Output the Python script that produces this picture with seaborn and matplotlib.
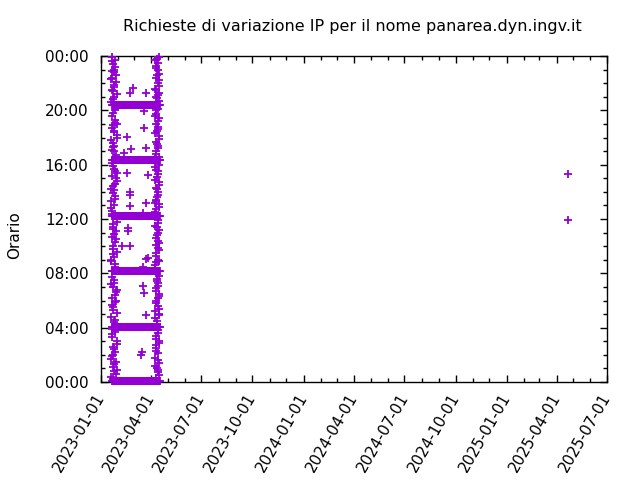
import pandas as pd
import numpy as np
import matplotlib
matplotlib.use("Agg")
import matplotlib.pyplot as plt
import matplotlib.dates as mdates
from matplotlib.ticker import FixedLocator, FuncFormatter
import seaborn as sns


# Data

title = "Richieste di variazione IP per il nome panarea.dyn.ingv.it"
y_label = "Orario"

# daily scheduled requests (rows)
row_start = "2023-01-21"
row_end = "2023-04-17"
row_missing_days = ["2023-03-19"]
row_times = ["00:05", "04:05", "08:10", "12:15", "16:20", "20:25"]

# January column (requests at all hours), day of January + hour
jan_col_day = [
    19, 25, 22, 28, 20, 26, 23, 29, 21, 27,
    24, 19, 30, 22, 26, 20, 28, 23, 25, 21,
    27, 19, 24, 29, 22, 26, 20, 28, 23, 30,
    21, 25, 19, 27, 24, 22, 29, 20, 26, 23,
    28, 21, 25, 19, 30, 24, 22, 27, 20, 26,
    23, 29, 21, 25, 19, 28, 24, 22, 27, 20,
    25, 21, 28, 23, 19, 26, 22, 29, 24, 20,
    22, 28, 19, 25, 30, 21, 27, 23, 20, 26,
    29, 24, 21, 27, 19, 23, 28, 25, 22, 30,
    20, 26, 23, 19, 28, 24, 21, 27, 25, 22,
    30, 20, 26, 23, 29, 19, 25, 22, 28, 21,
    24, 27, 20, 30, 23, 26, 19, 22, 29, 25,
]
jan_col_hour = [
    0.4, 0.8, 1.1, 1.5, 1.9, 2.2, 2.6, 3.0, 3.3, 3.7,
    4.4, 4.8, 5.1, 5.5, 5.9, 6.2, 6.6, 7.0, 7.3, 7.7,
    8.5, 8.9, 9.2, 9.6, 10.0, 10.3, 10.7, 11.1, 11.4, 11.8,
    12.6, 13.0, 13.3, 13.7, 14.1, 14.4, 14.8, 15.2, 15.5, 15.9,
    16.7, 17.1, 17.4, 17.8, 18.2, 18.5, 18.9, 19.3, 19.6, 20.0,
    20.8, 21.2, 21.5, 21.9, 22.3, 22.6, 23.0, 23.4, 23.7, 23.9,
    1.3, 3.5, 6.0, 9.4, 12.8, 14.6, 17.6, 19.0, 21.7, 22.9,
    0.2, 0.6, 1.7, 2.4, 2.8, 3.9, 4.6, 5.3, 5.7, 6.4,
    6.8, 7.5, 8.2, 8.7, 9.0, 9.8, 10.5, 10.9, 11.6, 12.2,
    12.4, 13.5, 13.9, 14.2, 15.0, 15.7, 16.1, 16.5, 17.0, 17.3,
    18.0, 18.7, 19.1, 19.8, 20.3, 20.6, 21.0, 21.4, 22.1, 22.4,
    22.8, 23.2, 23.6, 0.9, 2.0, 4.2, 7.2, 11.3, 15.4, 18.4,
]

# April column, day of April + hour
apr_col_day = [
    10, 14, 12, 16, 9, 13, 11, 15, 10, 14,
    12, 16, 9, 13, 11, 15, 10, 14, 12, 16,
    9, 13, 11, 15, 10, 14, 12, 16, 9, 13,
    11, 15, 10, 14, 12, 16, 9, 13, 11, 15,
    10, 14, 12, 16, 9, 13, 11, 15, 10, 14,
    12, 16, 9, 13, 11, 15, 10, 14, 12, 16,
    13, 11, 15, 10, 14, 12, 9, 13, 11, 15,
    15, 9, 13, 11, 16, 10, 14, 12, 9, 15,
    11, 13, 16, 10, 14, 12, 9, 15, 11, 13,
    16, 10, 12, 14, 9, 15, 11, 13, 10, 16,
    12, 14, 9, 15, 11, 13, 10, 16, 12, 14,
    9, 11, 15, 13, 10, 16, 12, 14, 11, 9,
]
apr_col_hour = [
    0.3, 0.7, 1.0, 1.4, 1.8, 2.1, 2.5, 2.9, 3.2, 3.6,
    4.5, 4.9, 5.2, 5.6, 6.0, 6.3, 6.7, 7.1, 7.4, 7.8,
    8.6, 9.0, 9.3, 9.7, 10.1, 10.4, 10.8, 11.2, 11.5, 11.9,
    12.7, 13.1, 13.4, 13.8, 14.2, 14.5, 14.9, 15.3, 15.6, 16.0,
    16.8, 17.2, 17.5, 17.9, 18.3, 18.6, 19.0, 19.4, 19.7, 20.1,
    20.9, 21.3, 21.6, 22.0, 22.4, 22.7, 23.1, 23.5, 23.8, 23.9,
    0.9, 2.7, 5.4, 8.8, 11.0, 13.6, 16.4, 18.8, 21.0, 22.2,
    0.5, 1.2, 1.6, 2.3, 3.0, 3.4, 3.8, 4.3, 4.7, 5.0,
    5.8, 6.2, 6.5, 6.9, 7.3, 7.6, 8.3, 8.9, 9.5, 9.9,
    10.2, 10.6, 11.4, 11.7, 12.5, 12.9, 13.3, 14.0, 14.3, 14.7,
    15.1, 15.5, 15.8, 16.6, 17.0, 17.4, 17.7, 18.1, 18.5, 19.2,
    19.6, 20.0, 20.7, 21.1, 21.5, 21.8, 22.6, 23.0, 23.3, 23.7,
]

# isolated requests
extra_dates = [
    "2023-02-27", "2023-02-22", "2023-03-24", "2023-03-19", "2023-03-19",
    "2023-02-16", "2023-03-24", "2023-02-24", "2023-02-12", "2023-02-16",
    "2023-03-26", "2023-02-22", "2023-02-22", "2023-03-24", "2023-02-22",
    "2023-03-17", "2023-02-18", "2023-02-18", "2023-02-07", "2023-02-22",
    "2023-03-26", "2023-03-17", "2023-03-17", "2023-03-19", "2023-03-24",
    "2023-03-15", "2023-03-14", "2023-04-08", "2023-03-24",
    "2025-04-22", "2025-04-22",
]
extra_times = [
    "21:38", "21:17", "21:17", "19:57", "18:42",
    "18:02", "17:14", "17:09", "16:51", "15:23",
    "15:14", "13:59", "13:46", "13:11", "12:57",
    "12:26", "11:20", "11:07", "10:01", "10:01",
    "09:08", "08:28", "07:04", "06:33", "04:56",
    "02:13", "01:59", "13:11", "09:03",
    "15:19", "11:56",
]


# Build one table of (date, hour)

def to_hour(t):
    h, m = t.split(":")
    return int(h) + int(m) / 60

days = pd.date_range(row_start, row_end, freq="D")
days = days[~days.isin(pd.to_datetime(row_missing_days))]
rows = pd.DataFrame(
    [(d, to_hour(t)) for d in days for t in row_times],
    columns=["date", "hour"],
)
jan = pd.DataFrame({
    "date": [pd.Timestamp(2023, 1, d) for d in jan_col_day],
    "hour": jan_col_hour,
})
apr = pd.DataFrame({
    "date": [pd.Timestamp(2023, 4, d) for d in apr_col_day],
    "hour": apr_col_hour,
})
extra = pd.DataFrame({
    "date": pd.to_datetime(extra_dates),
    "hour": [to_hour(t) for t in extra_times],
})
df = pd.concat([rows, jan, apr, extra], ignore_index=True)


# Plot

sns.set_style("ticks")
plt.rcParams["font.family"] = ["DejaVu Sans"]
plt.rcParams["font.size"] = 11
plt.rcParams["text.color"] = "black"
plt.rcParams["axes.labelcolor"] = "black"
plt.rcParams["xtick.color"] = "black"
plt.rcParams["ytick.color"] = "black"

fig = plt.figure(figsize=(6.4, 4.8), dpi=100)
ax = fig.add_axes([101 / 640, 1 - 382 / 480, 506 / 640, 326 / 480])

sns.scatterplot(
    data=df, x="date", y="hour", ax=ax,
    marker="+", color="#9400D3", s=28, linewidth=1.3,
    clip_on=False, legend=False, zorder=3,
)

ax.set_xlim(pd.Timestamp("2023-01-01"), pd.Timestamp("2025-07-01"))
ax.set_ylim(0, 24)

ax.xaxis.set_major_locator(mdates.MonthLocator(bymonth=[1, 4, 7, 10]))
ax.xaxis.set_minor_locator(mdates.MonthLocator())
ax.xaxis.set_major_formatter(mdates.DateFormatter("%Y-%m-%d"))

ax.yaxis.set_major_locator(FixedLocator(range(0, 25, 4)))
ax.yaxis.set_minor_locator(FixedLocator(range(0, 25)))
ax.yaxis.set_major_formatter(FuncFormatter(lambda v, p: "%02d:00" % (int(v) % 24)))

ax.tick_params(which="both", direction="in", top=True, right=True,
               color="black", labelcolor="black", width=1)
ax.tick_params(which="major", length=5)
ax.tick_params(which="minor", length=3)
ax.tick_params(axis="x", which="major", pad=9, labelsize=11)
ax.tick_params(axis="y", which="major", pad=9, labelsize=11)

for lab in ax.get_xticklabels():
    lab.set_rotation(60)
    lab.set_ha("right")
    lab.set_va("center")
    lab.set_rotation_mode("anchor")

for sp in ax.spines.values():
    sp.set_visible(True)
    sp.set_color("black")
    sp.set_linewidth(1)

ax.set_xlabel("")
ax.set_ylabel(y_label, fontsize=11, color="black")
ax.yaxis.set_label_coords(-0.156, 0.45)

fig.text(352 / 640, 1 - 27 / 480, title, ha="center", va="center",
         fontsize=11.5, color="black")

fig.savefig("out.png", dpi=100)
